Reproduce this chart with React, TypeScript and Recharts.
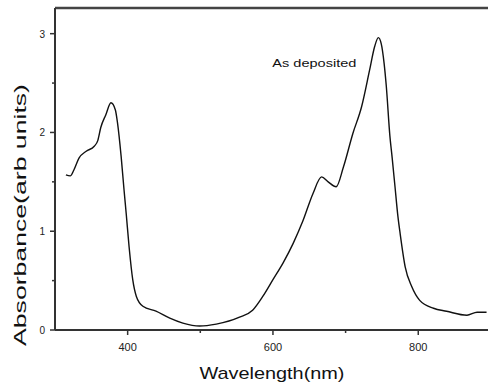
import {
  LineChart, Line, XAxis, YAxis, ReferenceLine, ReferenceDot
} from 'recharts';

// wavelength (nm) and absorbance
const wavelengths = [
  315, 321, 326, 333, 343, 354, 359, 363, 370, 377, 383, 386, 391, 395, 398,
  402, 407, 412, 421, 439, 458, 476, 499, 522, 554, 572, 586, 600, 614, 628,
  641, 655, 667, 676, 687, 697, 710, 722, 733, 740, 745, 749, 753, 756, 761,
  764, 768, 772, 775, 782, 791, 802, 821, 839, 867, 881, 894,
];
const absorbance = [
  1.57, 1.56, 1.62, 1.74, 1.81, 1.86, 1.92, 2.05, 2.18, 2.30, 2.23, 2.10, 1.76, 1.42, 1.18,
  0.84, 0.51, 0.34, 0.24, 0.19, 0.12, 0.07, 0.04, 0.06, 0.13, 0.20, 0.34, 0.51, 0.68, 0.88,
  1.10, 1.38, 1.55, 1.50, 1.45, 1.65, 1.99, 2.26, 2.63, 2.87, 2.96, 2.90, 2.70, 2.47, 1.96,
  1.75, 1.45, 1.15, 0.98, 0.64, 0.44, 0.30, 0.22, 0.19, 0.15, 0.18, 0.18,
];

const xTicks = [400, 500, 600, 700, 800];
const xLabels = [400, 600, 800];
const yTicks = [0, 0.5, 1, 1.5, 2, 2.5, 3];
const yLabels = [0, 1, 2, 3];

const data = wavelengths.map((wl, i) => ({ wl, abs: absorbance[i] }));

const XTick = (props: any) => {
  const { x, y, payload } = props;
  const major = xLabels.includes(payload.value);
  return (
    <g>
      <line x1={x} x2={x} y1={y} y2={y + (major ? 5 : 3)} stroke="#333" strokeWidth={1.5} />
      {major && (
        <text x={x} y={y + 21} textAnchor="middle" fontSize={11} fill="#222"
          fontFamily="Liberation Sans, Arial, sans-serif">
          {payload.value}
        </text>
      )}
    </g>
  );
};

const YTick = (props: any) => {
  const { x, y, payload } = props;
  const major = yLabels.includes(payload.value);
  return (
    <g>
      <line x1={x} x2={x - (major ? 5 : 3)} y1={y} y2={y} stroke="#333" strokeWidth={1.5} />
      {major && (
        <text x={x - 10} y={y + 4} textAnchor="end" fontSize={10} fill="#222"
          fontFamily="Liberation Sans, Arial, sans-serif">
          {payload.value}
        </text>
      )}
    </g>
  );
};

export default function App() {
  return (
    <div style={{ position: 'absolute', left: 0, top: 0, background: '#fff' }}>
      <LineChart width={488} height={386} data={data}
        margin={{ top: 8, right: 0, left: 0, bottom: 0 }}>
        <XAxis
          dataKey="wl"
          type="number"
          domain={[300, 896]}
          ticks={xTicks}
          allowDataOverflow
          tickSize={0}
          tickMargin={0}
          height={56}
          stroke="#333"
          strokeWidth={2}
          tick={<XTick />}
          label={{
            content: ({ viewBox }: any) => (
              <text x={272} y={viewBox.y + 49} textAnchor="middle" fontSize={17} fill="#111"
                textLength={145} lengthAdjust="spacingAndGlyphs"
                fontFamily="Liberation Sans, Arial, sans-serif">
                Wavelength(nm)
              </text>
            ),
          }}
        />
        <YAxis
          type="number"
          domain={[0, 3.26]}
          ticks={yTicks}
          allowDataOverflow
          tickSize={0}
          tickMargin={0}
          width={55}
          stroke="#333"
          strokeWidth={2}
          tick={<YTick />}
          label={{
            content: () => (
              <text x={26} y={215} textAnchor="middle" fontSize={17} fill="#111"
                transform="rotate(-90 26 215)"
                textLength={262} lengthAdjust="spacingAndGlyphs"
                fontFamily="Liberation Sans, Arial, sans-serif">
                Absorbance(arb units)
              </text>
            ),
          }}
        />
        <ReferenceLine y={3.26} stroke="#444" strokeWidth={2.5} />
        <ReferenceDot x={657} y={2.7} r={0} stroke="none" fill="none"
          label={{
            content: ({ viewBox }: any) => (
              <text x={viewBox.x} y={viewBox.y + 4} textAnchor="middle" fontSize={11} fill="#111"
                textLength={84} lengthAdjust="spacingAndGlyphs"
                fontFamily="Liberation Sans, Arial, sans-serif">
                As deposited
              </text>
            ),
          }}
        />
        <Line
          type="monotone"
          dataKey="abs"
          stroke="#111"
          strokeWidth={1.4}
          dot={false}
          isAnimationActive={false}
        />
      </LineChart>
    </div>
  );
}
